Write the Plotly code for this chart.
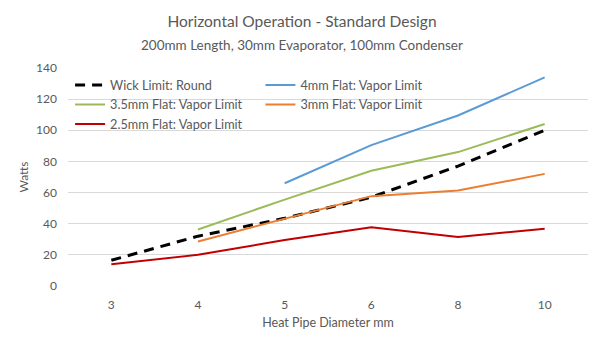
import plotly.graph_objects as go

categories = ["3", "4", "5", "6", "8", "10"]
wick_round = [16.5, 32, 43.5, 57, 77, 100]
flat_4mm = [None, None, 66, 90.5, 109.5, 134]
flat_35mm = [None, 36.3, 55.5, 74, 86, 104]
flat_3mm = [None, 28.6, 43, 57.7, 61.3, 72]
flat_25mm = [13.9, 20, 29.5, 37.8, 31.4, 36.8]

title_text = "Horizontal Operation - Standard Design"
subtitle_text = "200mm Length, 30mm Evaporator, 100mm Condenser"

FONT = "Lato, 'Open Sans', sans-serif"
GREY = "#595959"

fig = go.Figure()
fig.add_trace(go.Scatter(x=categories, y=wick_round, name="Wick Limit: Round", mode="lines",
                         line=dict(color="black", width=3, dash="10px,7px"), legend="legend"))
fig.add_trace(go.Scatter(x=categories, y=flat_4mm, name="4mm Flat: Vapor Limit", mode="lines",
                         line=dict(color="#5B9BD5", width=2), legend="legend2"))
fig.add_trace(go.Scatter(x=categories, y=flat_35mm, name="3.5mm Flat: Vapor Limit", mode="lines",
                         line=dict(color="#9BBB59", width=2), legend="legend"))
fig.add_trace(go.Scatter(x=categories, y=flat_3mm, name="3mm Flat: Vapor Limit", mode="lines",
                         line=dict(color="#ED7D31", width=2), legend="legend2"))
fig.add_trace(go.Scatter(x=categories, y=flat_25mm, name="2.5mm Flat: Vapor Limit", mode="lines",
                         line=dict(color="#C00000", width=2), legend="legend"))

legend_common = dict(font=dict(family=FONT, size=12.7, color=GREY), bgcolor="rgba(0,0,0,0)",
                     yanchor="top", xanchor="left", y=0.99, tracegroupgap=0, itemwidth=30)

fig.update_layout(
    width=600, height=350,
    margin=dict(l=68, r=12, t=68, b=64),
    paper_bgcolor="white", plot_bgcolor="white",
    font=dict(family=FONT, color=GREY),
    title=dict(text=title_text, x=302 / 600, xanchor="center", y=1 - 22 / 350, yanchor="middle",
               font=dict(size=15.5, color=GREY, family=FONT)),
    annotations=[dict(text=subtitle_text, xref="paper", yref="paper", x=(302 - 68) / 520, y=1 + 23 / 218,
                      xanchor="center", yanchor="middle", showarrow=False,
                      font=dict(size=13.5, color=GREY, family=FONT))],
    legend=dict(x=0.004, **legend_common),
    legend2=dict(x=0.37, **legend_common),
    xaxis=dict(type="category", range=[-0.5, 5.5], showgrid=False, showline=False, zeroline=False,
               tickfont=dict(size=12, color=GREY), ticks="outside", ticklen=8, tickcolor="rgba(0,0,0,0)",
               title=dict(text="Heat Pipe Diameter mm", font=dict(size=12.5, color=GREY), standoff=6)),
    yaxis=dict(range=[0, 140], dtick=20, showgrid=True, gridcolor="#D9D9D9", gridwidth=1, zeroline=False,
               tickfont=dict(size=12, color=GREY), ticklabelstandoff=10,
               title=dict(text="Watts", font=dict(size=12, color=GREY), standoff=4)),
)

fig.write_html("out.html")
